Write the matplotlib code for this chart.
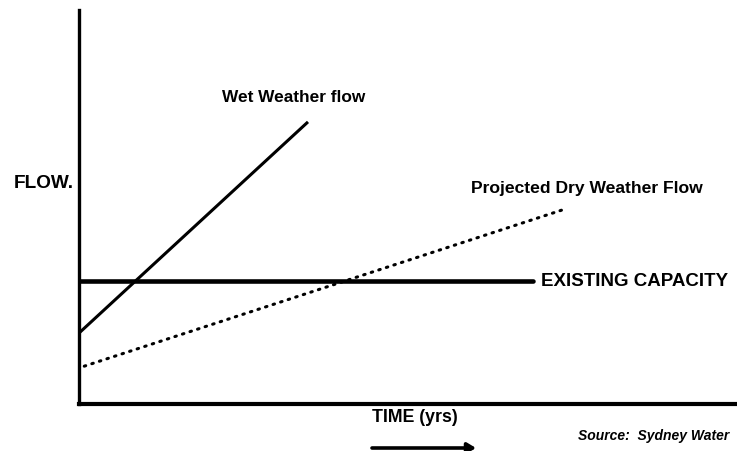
import matplotlib.pyplot as plt

plt.rcParams["font.family"] = ["Liberation Sans", "DejaVu Sans"]

# data (arbitrary units, time 0..100, flow 0..100)
time_wet = [0, 34.8]
flow_wet = [18.0, 71.6]
time_dry = [0.8, 73.9]
flow_dry = [9.6, 49.5]
time_cap = [0, 69.0]
flow_cap = [31.2, 31.2]

W, H = 737, 451
fig = plt.figure(figsize=(W / 100, H / 100), dpi=100)
ax = fig.add_axes([79 / W, 1 - 404 / H, 1 - 79 / W, (404 - 10) / H])
ax.set_xlim(0, 100)
ax.set_ylim(0, 100)

ax.plot(time_wet, flow_wet, color="black", lw=2.2, solid_capstyle="butt")
ax.plot(time_cap, flow_cap, color="black", lw=3.3, solid_capstyle="round")
ax.plot(time_dry, flow_dry, color="black", lw=2.2, linestyle=(0, (0.5, 2.1)),
        dash_capstyle="round")

for s in ["top", "right"]:
    ax.spines[s].set_visible(False)
ax.spines["left"].set_linewidth(2.4)
ax.spines["bottom"].set_linewidth(3.0)
ax.set_xticks([])
ax.set_yticks([])

def px(x, y):
    return x / W, 1 - y / H

fig.text(*px(14, 184), "FLOW.", fontsize=13.7, fontweight="bold", va="center", ha="left")
fig.text(*px(222, 98), "Wet Weather flow", fontsize=12.4, fontweight="bold", va="center", ha="left")
fig.text(*px(471, 188), "Projected Dry Weather Flow", fontsize=12.6, fontweight="bold",
         va="center", ha="left")
fig.text(*px(541, 281), "EXISTING CAPACITY", fontsize=13.5, fontweight="bold", va="center", ha="left")
fig.text(*px(372, 418), "TIME (yrs)", fontsize=12.8, fontweight="bold", va="center", ha="left")
fig.text(*px(578, 436), "Source:  Sydney Water", fontsize=10, fontweight="bold",
         style="italic", va="center", ha="left")

# arrow under the time label
ax.annotate("", xy=px(476, 448), xytext=px(372, 448), xycoords="figure fraction",
            textcoords="figure fraction",
            arrowprops=dict(arrowstyle="-|>,head_length=0.5,head_width=0.3",
                            color="black", lw=2.6, shrinkA=0, shrinkB=0))

fig.savefig("out.png", dpi=100)
